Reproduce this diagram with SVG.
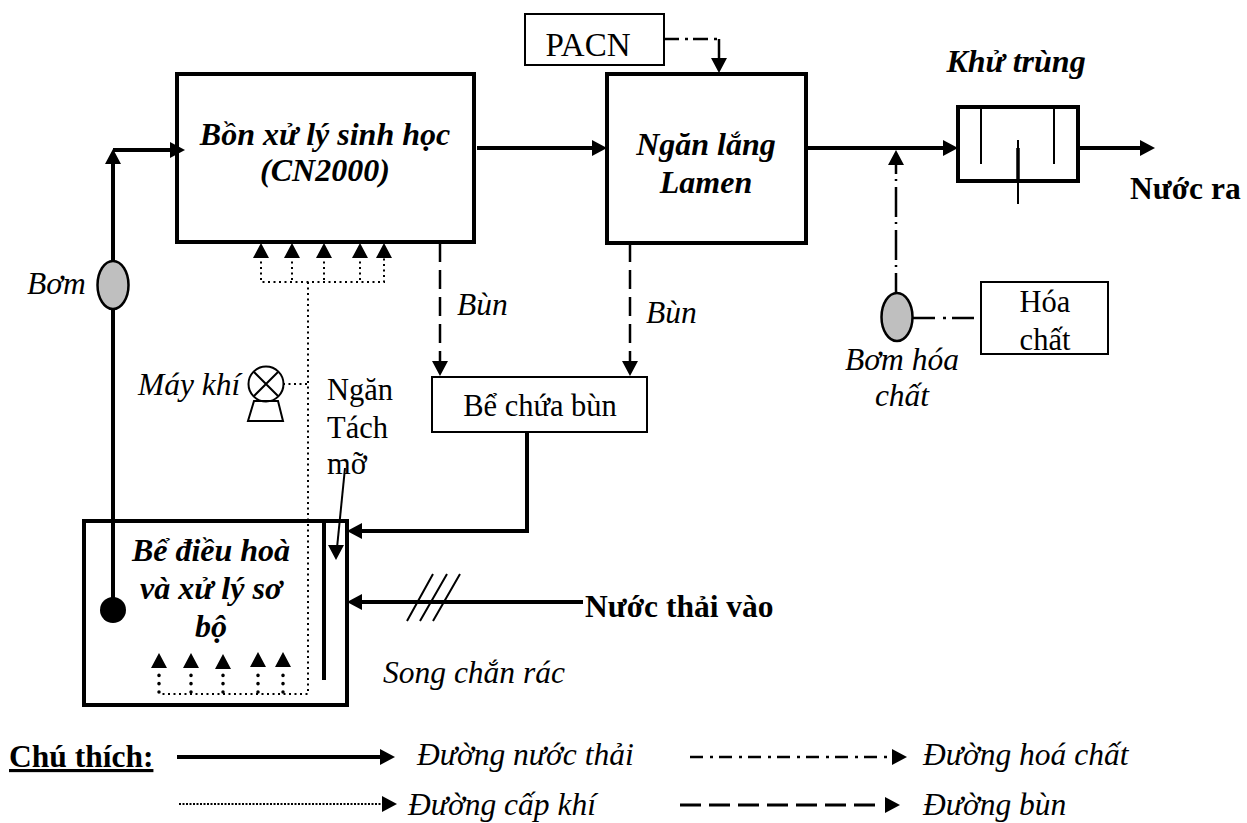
<svg xmlns="http://www.w3.org/2000/svg" width="1247" height="823" viewBox="0 0 1247 823">
<style>
text{font-family:"Liberation Serif","Times New Roman",serif;fill:#000;font-size:30.500px}
.i{font-style:italic;font-size:31.500px}
.bi{font-style:italic;font-weight:700;font-size:32px}
.b{font-weight:700;font-size:31.500px}
.m{text-anchor:middle}
.box{fill:#fff;stroke:#000;stroke-width:2}
.tank{fill:#fff;stroke:#000;stroke-width:4}
.pump{fill:#bfbfbf;stroke:#000;stroke-width:2.500}
.w,.d,.a,.r,.c{fill:none;stroke:#000}
.w{stroke-width:4}
.d{stroke-width:2.500;stroke-dasharray:19 8}
.a{stroke-width:2;stroke-dasharray:2 3.500}
.r{stroke-width:3.500;stroke-linecap:round;stroke-dasharray:.1 8.200}
.c{stroke-width:2.500}
.h{fill:#000;stroke:none}
</style>
<defs>
<path id="up" class="h" d="M0 0L8 15H-8Z"/>
<path id="dn" class="h" d="M0 0L8 -15H-8Z"/>
<path id="rt" class="h" d="M0 0L-15 8V-8Z"/>
<path id="lf" class="h" d="M0 0L15 8V-8Z"/>
</defs>

<g id="bon-xu-ly"><rect class="tank" x="177" y="74" width="297" height="168"/>
<text class="bi m" x="325" y="145">Bồn xử lý sinh học</text><text class="bi m" x="325" y="181">(CN2000)</text></g>
<g id="ngan-lang"><rect class="tank" x="607" y="74" width="199" height="169"/>
<text class="bi m" x="706" y="155">Ngăn lắng</text><text class="bi m" x="706" y="193">Lamen</text></g>
<g id="pacn"><rect class="box" x="525" y="14" width="139" height="51"/><text class="m" x="588" y="56" style="font-size:33px">PACN</text></g>
<g id="khu-trung"><text class="bi m" x="1016" y="72">Khử trùng</text>
<rect class="tank" x="958" y="107" width="120" height="74"/>
<path d="M981 109V164M1054 109V164M1018 140V204" fill="none" stroke="#000" stroke-width="2"/><path d="M1018 148V181" stroke="#000" stroke-width="3.500"/></g>
<g id="nuoc-ra"><text class="b" x="1130" y="199">Nước ra</text></g>
<g id="hoa-chat"><rect class="box" x="981" y="282" width="127" height="72"/><text class="m" x="1045" y="312">Hóa</text><text class="m" x="1045" y="350">chất</text></g>
<g id="bom-hoa-chat"><ellipse class="pump" cx="897" cy="317" rx="15.500" ry="24"/><text class="i m" x="902" y="370">Bơm hóa</text><text class="i m" x="902" y="406">chất</text></g>
<g id="be-chua-bun"><rect class="box" x="432" y="377" width="215" height="55"/><text class="m" x="540" y="416">Bể chứa bùn</text></g>
<g id="bom"><text class="i" x="27" y="294">Bơm</text><ellipse class="pump" cx="113" cy="285" rx="15.500" ry="24"/></g>
<g id="may-khi"><text class="i" x="138" y="395">Máy khí</text>
<circle cx="266" cy="384" r="17.500" fill="#fff" stroke="#000" stroke-width="2"/><path d="M254 372L278 396M278 372L254 396M254 401H278L283 421H248Z" fill="none" stroke="#000" stroke-width="2"/></g>
<g id="ngan-tach-mo"><text x="327" y="400">Ngăn</text><text x="327" y="438">Tách</text><text x="327" y="474">mỡ</text></g>
<g id="be-dieu-hoa"><rect class="tank" x="84" y="521" width="263" height="184"/>
<text class="bi m" x="211" y="561">Bể điều hoà</text><text class="bi m" x="211" y="599">và xử lý sơ</text><text class="bi m" x="211" y="637">bộ</text>
<circle cx="113" cy="610" r="13" fill="#000"/><path d="M324 522V680" stroke="#000" stroke-width="4"/></g>
<g id="song-chan-rac"><text class="i" x="383" y="683">Song chắn rác</text><path d="M407 621L433 574M420 621L447 574M433 621L460 574" stroke="#000" stroke-width="2" fill="none"/></g>
<g id="nuoc-thai-vao"><text class="b" x="585" y="617">Nước thải vào</text></g>

<g id="connectors">
<path class="w" d="M113 600V309M113 261V155M113 150H172M477 148H592M806 148H945M1078 148H1140M527 432V531H360M583 602H360"/>
<use href="#up" x="113" y="149"/><use href="#rt" x="185" y="150"/><use href="#rt" x="607" y="148"/><use href="#rt" x="958" y="148"/><use href="#rt" x="1155" y="148"/><use href="#lf" x="347" y="531"/><use href="#lf" x="347" y="602"/>
<path class="d" d="M440 243V362M630 243V362"/><use href="#dn" x="440" y="376"/><use href="#dn" x="630" y="376"/>
<path class="a" d="M261 256V282H384V256M292 256V282M324 256V282M360 256V282M308 282V694H159M283 384H308"/>
<path class="r" d="M159 692V672M191 692V672M223 692V672M258 692V672M283 692V672"/>
<use href="#up" x="261" y="243"/><use href="#up" x="292" y="243"/><use href="#up" x="324" y="243"/><use href="#up" x="360" y="243"/><use href="#up" x="384" y="243"/>
<use href="#up" x="159" y="653"/><use href="#up" x="191" y="653"/><use href="#up" x="223" y="654"/><use href="#up" x="258" y="652"/><use href="#up" x="283" y="652"/>
<path class="c" stroke-dasharray="15 6 3 5" d="M664 39H719"/><path d="M719 39V60" stroke="#000" stroke-width="2.500" fill="none"/><use href="#dn" x="719" y="73"/>
<path class="c" stroke-dasharray="30 6 2 5" stroke-dashoffset="10" d="M896 293V163"/><use href="#up" x="896" y="150"/>
<path class="c" stroke-dasharray="22 8 3 6" d="M913 318H977"/>
<path d="M345 468L337 548" stroke="#000" stroke-width="2" fill="none"/><use href="#dn" x="336" y="560"/>
</g>

<g id="bun-labels"><text class="i" x="457" y="315">Bùn</text><text class="i" x="646" y="323">Bùn</text></g>
<g id="legend">
<text class="b" x="9" y="767" text-decoration="underline">Chú thích:</text>
<path d="M177 757H382" stroke="#000" stroke-width="4"/><use href="#rt" x="395" y="757"/><text class="i" x="417" y="765">Đường nước thải</text>
<path d="M690 757H890" fill="none" stroke="#000" stroke-width="2.500" stroke-dasharray="13 7 3 6"/><use href="#rt" x="907" y="757"/><text class="i" x="923" y="765">Đường hoá chất</text>
<path d="M179 804H382" fill="none" stroke="#000" stroke-width="2" stroke-dasharray="2 1.500"/><use href="#rt" x="397" y="804"/><text class="i" x="408" y="815">Đường cấp khí</text>
<path d="M680 805H883" fill="none" stroke="#000" stroke-width="3" stroke-dasharray="21 8"/><use href="#rt" x="900" y="805"/><text class="i" x="923" y="815">Đường bùn</text>
</g>
</svg>
